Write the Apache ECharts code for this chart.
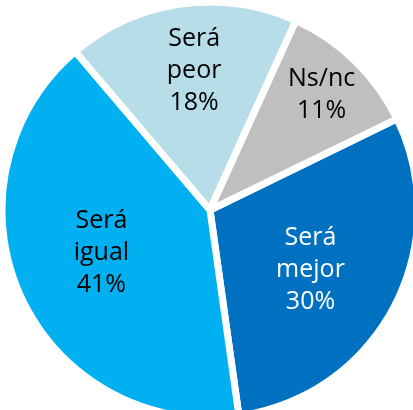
<!DOCTYPE html>
<html>
<head>
<meta charset="utf-8">
<script src="https://cdn.jsdelivr.net/npm/echarts@6/dist/echarts.min.js"></script>
<style>
  html, body { margin: 0; padding: 0; background: #fff; }
  #chart { width: 413px; height: 410px; }
</style>
</head>
<body>
<div id="chart"></div>
<script>
const labels = ['Será\nmejor', 'Será\nigual', 'Será\npeor', 'Ns/nc'];
const values = [30, 41, 18, 11];
const colors = ['#0070C0', '#00B0F0', '#B7DEE8', '#BFBFBF'];
const textColors = ['#ffffff', '#000000', '#000000', '#000000'];
// nudge each label away from the default mid-radius spot
const labelOffsets = [[6, 10], [-11, -1], [-1, -33], [37, -38]];

const chart = echarts.init(document.getElementById('chart'));

const data = values.map((v, i) => ({
  name: labels[i],
  value: v,
  itemStyle: { color: colors[i] },
  label: { color: textColors[i], offset: labelOffsets[i] },
}));

chart.setOption({
  animation: false,
  series: [{
    type: 'pie',
    center: [210, 210],
    radius: 208,
    startAngle: 26,
    clockwise: true,
    silent: true,
    itemStyle: { borderColor: '#ffffff', borderWidth: 7 },
    label: {
      show: true,
      position: 'inside',
      fontFamily: 'Open Sans',
      fontSize: 25,
      lineHeight: 32,
      align: 'center',
      formatter: (p) => p.name + '\n' + p.value + '%',
    },
    labelLine: { show: false },
    data: data,
  }],
});
</script>
</body>
</html>
